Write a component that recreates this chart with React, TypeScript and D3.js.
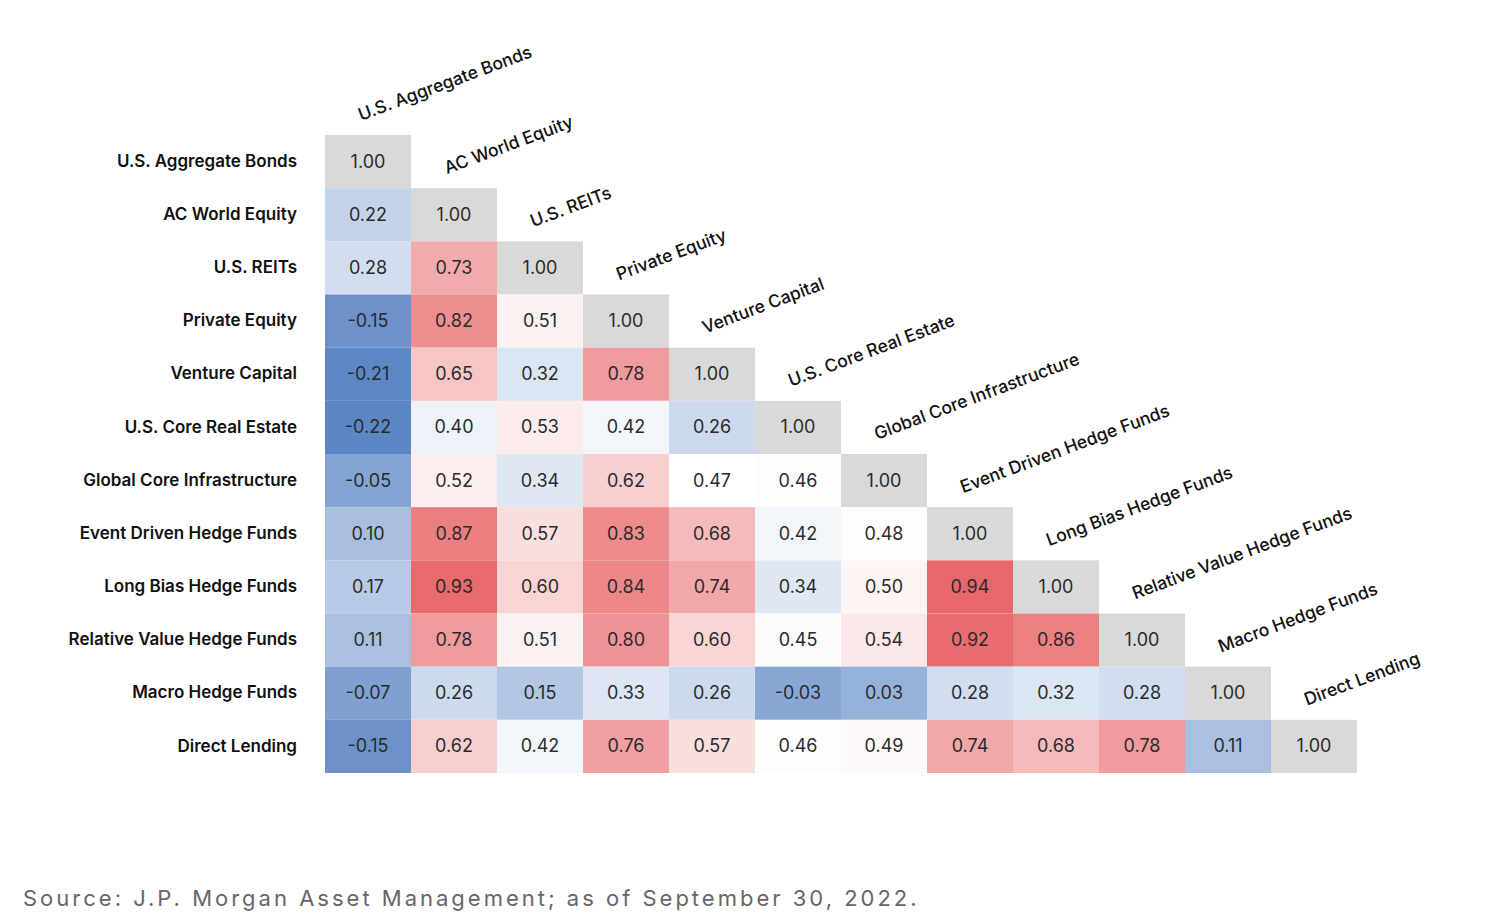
import React from "react";
import * as d3 from "d3";

const assets = [
  "U.S. Aggregate Bonds",
  "AC World Equity",
  "U.S. REITs",
  "Private Equity",
  "Venture Capital",
  "U.S. Core Real Estate",
  "Global Core Infrastructure",
  "Event Driven Hedge Funds",
  "Long Bias Hedge Funds",
  "Relative Value Hedge Funds",
  "Macro Hedge Funds",
  "Direct Lending",
];

const row0 = [1.0];
const row1 = [0.22, 1.0];
const row2 = [0.28, 0.73, 1.0];
const row3 = [-0.15, 0.82, 0.51, 1.0];
const row4 = [-0.21, 0.65, 0.32, 0.78, 1.0];
const row5 = [-0.22, 0.4, 0.53, 0.42, 0.26, 1.0];
const row6 = [-0.05, 0.52, 0.34, 0.62, 0.47, 0.46, 1.0];
const row7 = [0.1, 0.87, 0.57, 0.83, 0.68, 0.42, 0.48, 1.0];
const row8 = [0.17, 0.93, 0.6, 0.84, 0.74, 0.34, 0.5, 0.94, 1.0];
const row9 = [0.11, 0.78, 0.51, 0.8, 0.6, 0.45, 0.54, 0.92, 0.86, 1.0];
const row10 = [-0.07, 0.26, 0.15, 0.33, 0.26, -0.03, 0.03, 0.28, 0.32, 0.28, 1.0];
const row11 = [-0.15, 0.62, 0.42, 0.76, 0.57, 0.46, 0.49, 0.74, 0.68, 0.78, 0.11, 1.0];

const matrix = [row0, row1, row2, row3, row4, row5, row6, row7, row8, row9, row10, row11];

const sourceText = "Source: J.P. Morgan Asset Management; as of September 30, 2022.";

const FONT = "Inter, 'Liberation Sans', Arial, sans-serif";

export default function App() {
  const n = assets.length;
  const x = d3.scaleBand<number>().domain(d3.range(n)).range([325, 1357]).paddingInner(0);
  const y = d3.scaleBand<number>().domain(d3.range(n)).range([135, 773]).paddingInner(0);
  const color = d3
    .scaleLinear<string>()
    .domain([-0.22, 0.47, 0.94])
    .range(["#5c86c4", "#ffffff", "#e8676a"])
    .interpolate(d3.interpolateRgb)
    .clamp(true);

  const cells: { r: number; c: number; v: number }[] = [];
  matrix.forEach((row, r) => row.forEach((v, c) => cells.push({ r, c, v })));

  return (
    <svg width={1500} height={922} style={{ position: "absolute", left: 0, top: 0 }}>
      <rect width={1500} height={922} fill="#ffffff" />
      {cells.map(({ r, c, v }) => (
        <g key={`${r}-${c}`}>
          <rect
            x={x(c)}
            y={y(r)}
            width={x.bandwidth()}
            height={y.bandwidth()}
            fill={r === c ? "#d9d9d9" : color(v)}
          />
          <text
            x={(x(c) as number) + x.bandwidth() / 2}
            y={(y(r) as number) + y.bandwidth() / 2}
            dy="0.33em"
            textAnchor="middle"
            fontFamily={FONT}
            fontSize={18}
            fontWeight={400}
            fill="#2b2b2b"
          >
            {v.toFixed(2)}
          </text>
        </g>
      ))}
      {assets.map((a, i) => (
        <text
          key={`rl-${i}`}
          x={297}
          y={(y(i) as number) + y.bandwidth() / 2}
          dy="0.3em"
          textAnchor="end"
          fontFamily={FONT}
          fontSize={17}
          fontWeight={600}
          fill="#111111"
        >
          {a}
        </text>
      ))}
      {assets.map((a, i) => {
        const tx = (x(i) as number) + 36;
        const ty = (y(i) as number) - 14;
        return (
          <text
            key={`cl-${i}`}
            transform={`translate(${tx},${ty}) rotate(-20.5)`}
            textAnchor="start"
            fontFamily={FONT}
            fontSize={17.5}
            fontWeight={500}
            fill="#111111"
          >
            {a}
          </text>
        );
      })}
      <text
        x={23}
        y={906}
        fontFamily={FONT}
        fontSize={22}
        letterSpacing={3}
        fill="#666666"
      >
        {sourceText}
      </text>
    </svg>
  );
}
